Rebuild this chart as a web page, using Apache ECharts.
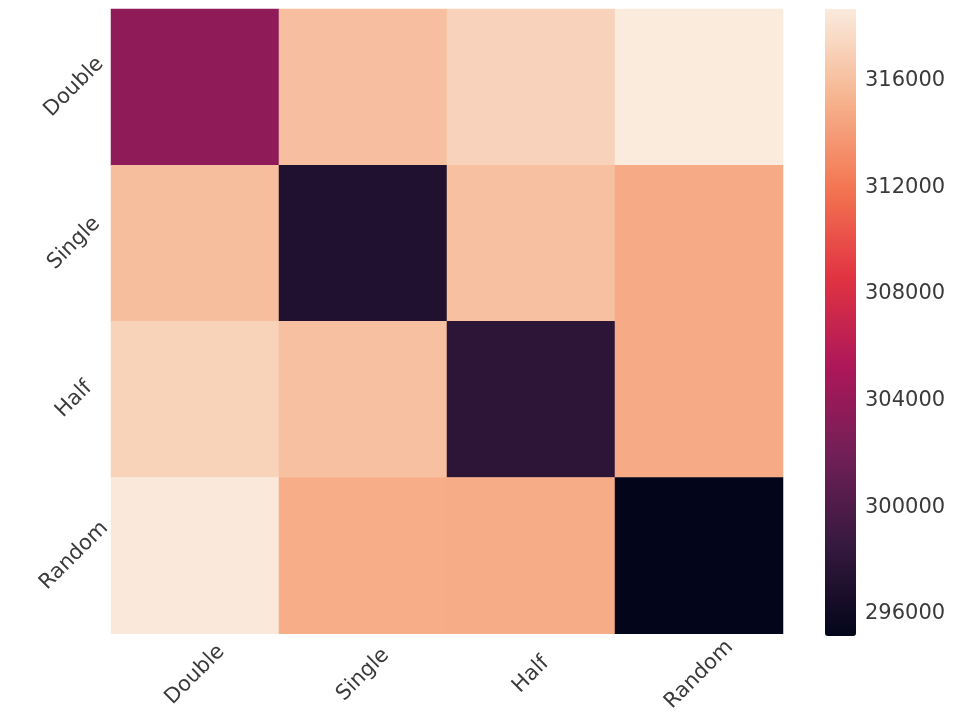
<!DOCTYPE html>
<html>
<head>
<meta charset="utf-8">
<script src="https://cdn.jsdelivr.net/npm/echarts@6/dist/echarts.min.js"></script>
<style>
  html, body { margin: 0; padding: 0; background: #ffffff; }
  #chart { width: 979px; height: 715px; }
</style>
</head>
<body>
<div id="chart"></div>
<script>
// Category labels, shared by both axes
const categories = ['Double', 'Single', 'Half', 'Random'];

// Matrix rows (top to bottom), one value per column (left to right)
const rowDouble = [303590, 316000, 317180, 318680];
const rowSingle = [315950, 297200, 316110, 314830];
const rowHalf   = [317130, 316040, 297900, 314830];
const rowRandom = [318550, 314940, 314900, 295170];

// Colour bar tick labels
const colorbarTicks = [296000, 300000, 304000, 308000, 312000, 316000];

// "rocket" colour ramp, dark to light
const rocket = ['#03051a', '#35193e', '#701f57', '#ad1759', '#e13342', '#f37651', '#f6b48f', '#faebdd'];

const rows = [rowDouble, rowSingle, rowHalf, rowRandom];
const cells = [];
rows.forEach((row, r) => row.forEach((v, c) => cells.push([c, r, v])));
const allValues = rows.flat();
const vmin = Math.min(...allValues);
const vmax = Math.max(...allValues);

const FONT = 'DejaVu Sans';
const TEXT = '#3a3a3a';
const SIZE = 21;

const chart = echarts.init(document.getElementById('chart'), null, { renderer: 'canvas' });
chart.setOption({
  backgroundColor: '#ffffff',
  animation: false,
  grid: [
    { left: 111, top: 9, width: 672, height: 627 },
    { left: 825, top: 9, width: 31, height: 627 }
  ],
  xAxis: [
    {
      type: 'category', gridIndex: 0, data: categories,
      axisLine: { show: false }, axisTick: { show: false }, splitLine: { show: false },
      axisLabel: {
        rotate: 45, align: 'center', verticalAlign: 'middle', margin: 41,
        fontSize: SIZE, fontFamily: FONT, color: TEXT, interval: 0
      }
    },
    { type: 'value', gridIndex: 1, show: false, min: 0, max: 1 }
  ],
  yAxis: [
    {
      type: 'category', gridIndex: 0, data: categories, inverse: true,
      axisLine: { show: false }, axisTick: { show: false }, splitLine: { show: false },
      axisLabel: {
        rotate: 45, align: 'center', verticalAlign: 'middle', margin: 37,
        fontSize: SIZE, fontFamily: FONT, color: TEXT, interval: 0
      }
    },
    {
      type: 'value', gridIndex: 1, position: 'right', min: vmin, max: vmax,
      axisLine: { show: false }, splitLine: { show: false },
      axisTick: { show: true, length: 5, customValues: colorbarTicks, lineStyle: { color: '#555555', width: 1 } },
      axisLabel: {
        customValues: colorbarTicks, margin: 9,
        formatter: (v) => String(v),
        fontSize: SIZE, fontFamily: FONT, color: TEXT
      }
    }
  ],
  visualMap: {
    type: 'continuous', min: vmin, max: vmax, seriesIndex: 0,
    calculable: false, orient: 'vertical',
    left: 820, top: 4, padding: 5,
    itemWidth: 31, itemHeight: 627,
    text: null, showLabel: false,
    inRange: { color: rocket }
  },
  series: [
    {
      type: 'heatmap', xAxisIndex: 0, yAxisIndex: 0,
      data: cells,
      label: { show: false },
      emphasis: { disabled: true },
      itemStyle: { borderWidth: 0 }
    }
  ]
});
</script>
</body>
</html>
